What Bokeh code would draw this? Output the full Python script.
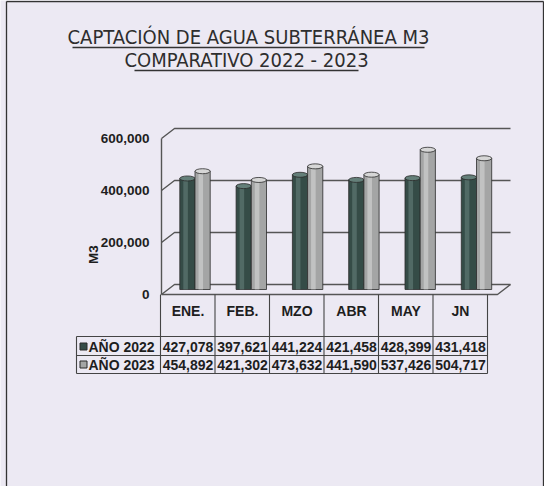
from bokeh.plotting import figure
from bokeh.models import Range1d
from bokeh.core.properties import value
from bokeh.embed import file_html
from bokeh.resources import INLINE

# ---------------- data ----------------
months = ["ENE.", "FEB.", "MZO", "ABR", "MAY", "JN"]
series_names = ["AÑO 2022", "AÑO 2023"]
v2022 = [427078, 397621, 441224, 421458, 428399, 431418]
v2023 = [454892, 421302, 473632, 441590, 537426, 504717]
y_ticks = [0, 200000, 400000, 600000]
y_title = "M3"
title_lines = ["CAPTACIÓN DE AGUA SUBTERRÁNEA M3", "COMPARATIVO 2022 - 2023"]

# ---------------- layout helpers (page pixels -> data) ----------------
W, H = 544, 486
CELL = 54.5          # px per category in the table
CELL0 = 195.5        # page x of first category center (table)
BAR_STEP = 56.3      # px per category for bars (perspective)
BAR0 = 202.5
PXV = 0.00026        # px per unit value
BASE = 297.0         # page y of value 0 (bars)
DEPTH = 5.0          # half depth offset of 3D walls in px

def xd(px):
    return (px - CELL0) / CELL

def yd(py):
    return (BASE - py) / PXV

PAPER = "#ECE9F3"
INK = "#1e1e1e"
FONT = "Liberation Sans"
NARROW = "DejaVu Sans Condensed, Liberation Sans"

p = figure(width=W, height=H, output_backend="svg", toolbar_location=None,
           x_axis_type=None, y_axis_type=None,
           x_range=Range1d(xd(8), xd(8 + W)), y_range=Range1d(yd(8 + H), yd(8)),
           min_border=0, outline_line_color=None,
           background_fill_color=PAPER, border_fill_color=PAPER)
p.extra_x_ranges = {"bars": Range1d((8 - BAR0) / BAR_STEP, (8 + W - BAR0) / BAR_STEP)}
p.grid.visible = False

# ---------------- page frame ----------------
p.multi_line(xs=[[xd(14), xd(14)], [xd(14), xd(551)], [xd(551), xd(551)]],
             ys=[[yd(510), yd(9)], [yd(9), yd(9)], [yd(9), yd(510)]],
             line_color="#333333", line_width=1.3)

# ---------------- titles ----------------
p.text(x=[xd(256), xd(254)], y=[yd(44), yd(67)], text=title_lines,
       text_font=value(NARROW), text_font_size="20px", text_color="#2e2e2e",
       text_align="center", text_baseline="middle")
p.multi_line(xs=[[xd(80), xd(432)], [xd(142), xd(366)]],
             ys=[[yd(55), yd(55)], [yd(78), yd(78)]],
             line_color="#333333", line_width=1.6)

# ---------------- 3D walls / grid ----------------
off = DEPTH / PXV
x_front, x_back, x_right = xd(169), xd(182), xd(518)
xs, ys = [], []
for t in y_ticks:
    xs.append([x_front, x_back, x_right])
    ys.append([t - off, t + off, t + off])
xs.append([x_front, x_front]); ys.append([y_ticks[0] - off, y_ticks[-1] - off])
xs.append([x_front, xd(505), x_right]); ys.append([y_ticks[0] - off, y_ticks[0] - off, y_ticks[0] + off])
p.multi_line(xs=xs, ys=ys, line_color="#555555", line_width=1.4)

# tick labels
p.text(x=[xd(157)] * len(y_ticks), y=[t - off for t in y_ticks],
       text=[f"{t:,}" for t in y_ticks], text_font=value(FONT), text_font_style="bold",
       text_font_size="13.5px", text_color=INK, text_align="right", text_baseline="middle")
p.text(x=[xd(101)], y=[yd(262)], text=[y_title], angle=1.5708,
       text_font=value(FONT), text_font_style="bold", text_font_size="13.5px",
       text_color=INK, text_align="center", text_baseline="middle")

# ---------------- bars (cylinders) ----------------
bw = 0.27
idx = list(range(len(months)))
cap_h = 5
for vals, dx, base_c, hi_c in [(v2022, -0.135, "#354c47", "#647f79"),
                               (v2023, 0.135, "#a4a5a5", "#d6d6d6")]:
    xc = [i + dx for i in idx]
    p.vbar(x=xc, top=vals, bottom=0, width=bw, fill_color=base_c, line_color="#2b2b2b",
           line_width=0.8, x_range_name="bars")
    p.vbar(x=[x - bw * 0.12 for x in xc], top=vals, bottom=0, width=bw * 0.3,
           fill_color=hi_c, fill_alpha=0.6, line_color=None, x_range_name="bars")
    p.ellipse(x=xc, y=vals, width=bw, height=cap_h, height_units="screen",
              fill_color=hi_c, line_color="#2b2b2b", line_width=0.8, x_range_name="bars")

# ---------------- data table ----------------
tx, ty = [], []
for k in range(len(months) + 1):
    xb = xd(168) + k
    tx.append([xb, xb]); ty.append([yd(302), yd(381)])
for py in [344, 363, 381]:
    tx.append([xd(84), xd(168) + len(months)]); ty.append([yd(py), yd(py)])
tx.append([xd(84), xd(84)]); ty.append([yd(344), yd(381)])
p.multi_line(xs=tx, ys=ty, line_color="#444444", line_width=1.1)

p.text(x=idx, y=[yd(318)] * len(months), text=months, text_font=value(FONT),
       text_font_style="bold", text_font_size="14px", text_color=INK,
       text_align="center", text_baseline="middle")

row_y = [yd(354), yd(372)]
p.scatter(x=[xd(91)] * 2, y=row_y, marker="square", size=7,
          fill_color=["#354c47", "#a4a5a5"], line_color="#2b2b2b", line_width=1)
p.text(x=[xd(96)] * 2, y=row_y, text=series_names, text_font=value(FONT),
       text_font_style="bold", text_font_size="14px", text_color=INK,
       text_align="left", text_baseline="middle")
for vals, yy in [(v2022, row_y[0]), (v2023, row_y[1])]:
    p.text(x=idx, y=[yy] * len(vals), text=[f"{v:,}" for v in vals], text_font=value(FONT),
           text_font_style="bold", text_font_size="14px", text_color=INK,
           text_align="center", text_baseline="middle")

html = file_html(p, INLINE)
html = html.replace("<body>", f'<body style="background:{PAPER};">', 1)
open("out.html", "w").write(html)
